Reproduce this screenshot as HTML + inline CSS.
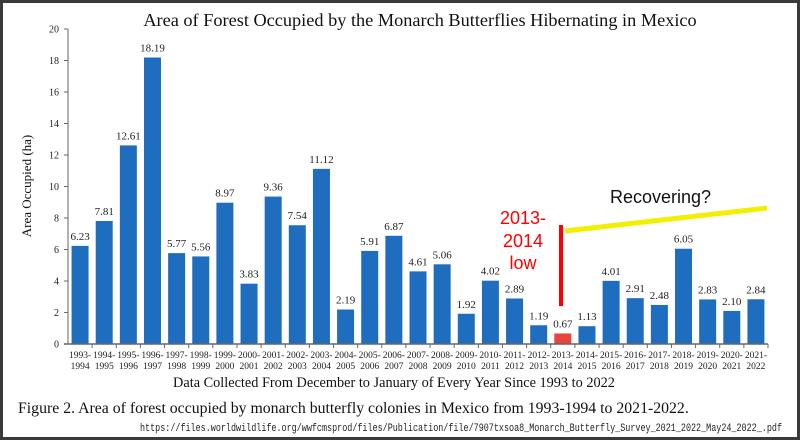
<!DOCTYPE html>
<html><head><meta charset="utf-8">
<style>
html,body{margin:0;padding:0;background:#fff}
#wrap{position:relative;width:800px;height:440px;overflow:hidden;box-sizing:border-box;border:3px solid #3a3a3a;background:#fff}
svg{position:absolute;left:-3px;top:-3px}
</style></head><body>
<div id="wrap">
<svg id="chart" width="800" height="440">
<text x="420" y="26" text-anchor="middle" font-family="Liberation Serif, serif" font-size="18.3" fill="#111">Area of Forest Occupied by the Monarch Butterflies Hibernating in Mexico</text>
<text transform="translate(31,186) rotate(-90)" text-anchor="middle" font-family="Liberation Serif, serif" font-size="13" fill="#111">Area Occupied (ha)</text>
<text x="394" y="387" text-anchor="middle" font-family="Liberation Serif, serif" font-size="14.3" fill="#111">Data Collected From December to January of Every Year Since 1993 to 2022</text>
<text x="18" y="413" font-family="Liberation Serif, serif" font-size="15.8" fill="#111">Figure 2. Area of forest occupied by monarch butterfly colonies in Mexico from 1993-1994 to 2021-2022.</text>
<text x="140" y="431" textLength="642" lengthAdjust="spacingAndGlyphs" font-family="Liberation Mono, monospace" font-size="11" fill="#222">https://files.worldwildlife.org/wwfcmsprod/files/Publication/file/7907txsoa8_Monarch_Butterfly_Survey_2021_2022_May24_2022_.pdf</text>
<g id="plot"></g>
<text x="523" y="224" text-anchor="middle" font-family="Liberation Sans, sans-serif" font-size="18" fill="#f00">2013-</text>
<text x="523" y="247" text-anchor="middle" font-family="Liberation Sans, sans-serif" font-size="18" fill="#f00">2014</text>
<text x="523" y="269" text-anchor="middle" font-family="Liberation Sans, sans-serif" font-size="18" fill="#f00">low</text>
<line x1="561" y1="225" x2="561" y2="306" stroke="#f00" stroke-width="4"/>
<line x1="565" y1="231" x2="767" y2="208" stroke="#f0f000" stroke-width="5"/>
<text x="610" y="203" font-family="Liberation Sans, sans-serif" font-size="18" fill="#111">Recovering?</text>
</svg>
</div>
<script>
const categories=["1993-|1994","1994-|1995","1995-|1996","1996-|1997","1997-|1998","1998-|1999","1999-|2000","2000-|2001","2001-|2002","2002-|2003","2003-|2004","2004-|2005","2005-|2006","2006-|2007","2007-|2008","2008-|2009","2009-|2010","2010-|2011","2011-|2012","2012-|2013","2013-|2014","2014-|2015","2015-|2016","2016-|2017","2017-|2018","2018-|2019","2019-|2020","2020-|2021","2021-|2022"];
const values=[6.23,7.81,12.61,18.19,5.77,5.56,8.97,3.83,9.36,7.54,11.12,2.19,5.91,6.87,4.61,5.06,1.92,4.02,2.89,1.19,0.67,1.13,4.01,2.91,2.48,6.05,2.83,2.10,2.84];
const valueLabels=["6.23","7.81","12.61","18.19","5.77","5.56","8.97","3.83","9.36","7.54","11.12","2.19","5.91","6.87","4.61","5.06","1.92","4.02","2.89","1.19","0.67","1.13","4.01","2.91","2.48","6.05","2.83","2.10","2.84"];
const yTicks=[0,2,4,6,8,10,12,14,16,18,20];
const highlightIndex=20;
const NS="http://www.w3.org/2000/svg";
const g=document.getElementById('plot');
const x0=68,x1=768,y0=344,yTop=29;
const step=(x1-x0)/categories.length;
const yS=v=>y0-(v/20)*(y0-yTop);
const xC=i=>x0+step*(i+0.5);
function mk(t,a){const e=document.createElementNS(NS,t);for(const k in a)e.setAttribute(k,a[k]);g.appendChild(e);return e;}
const ax=mk('line',{x1:x0,y1:yTop,x2:x0,y2:y0,stroke:'#666','stroke-width':1});


yTicks.forEach(t=>{
 const l=mk('line',{x1:x0-4,y1:yS(t),x2:x0,y2:yS(t),stroke:'#666'});
 
 
 const tx=mk('text',{x:x0-9,y:yS(t)+3.5,'text-anchor':'end','font-family':'Liberation Serif, serif','font-size':'10',fill:'#222'});
 tx.textContent=t;
 
 
});
values.forEach((v,i)=>{
 const bw=17;
 const r=mk('rect',{x:xC(i)-bw/2,y:yS(v),width:bw,height:y0-yS(v),fill:i===highlightIndex?'#e8433c':'#1f6dbf'});
 
 
 const lb=mk('text',{x:xC(i),y:yS(v)-6,'text-anchor':'middle','font-family':'Liberation Serif, serif','font-size':'11',fill:'#222'});
 lb.textContent=valueLabels[i];
 
 
 const parts=categories[i].split('|');
 parts.forEach((p,j)=>{
  const c=mk('text',{x:xC(i),y:358+j*11,'text-anchor':'middle','font-family':'Liberation Serif, serif','font-size':'9.5',fill:'#222'});
  c.textContent=p;
  
  
 });
 const tk=mk('line',{x1:x0+step*(i+1),y1:y0,x2:x0+step*(i+1),y2:y0+4,stroke:'#666'});
 
 
});
const xa=mk('line',{x1:x0-4,y1:y0,x2:x1,y2:y0,stroke:'#666','stroke-width':1.5});


</script>
</body></html>
